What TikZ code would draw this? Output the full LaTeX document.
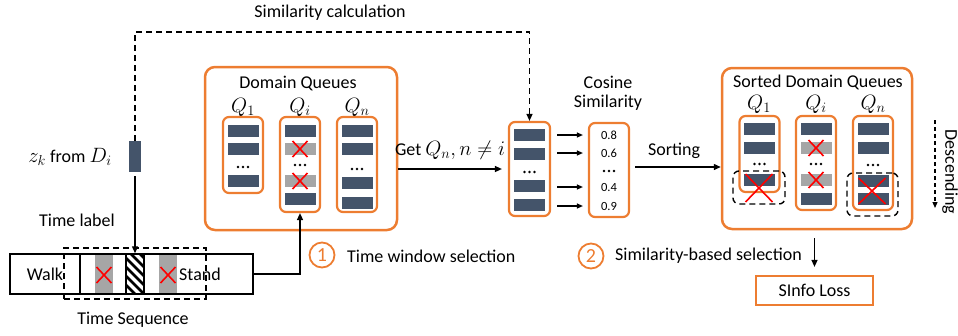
\documentclass[tikz,border=0pt]{standalone}
\usepackage{fontspec}
\setmainfont{Carlito}
\usetikzlibrary{arrows.meta}
\definecolor{org}{HTML}{ED7D31}
\definecolor{barc}{HTML}{44546A}
\definecolor{grayb}{HTML}{A6A6A6}
\newcommand\qb[3]{\fill[#3] (#1-15.5,#2) rectangle (#1+15.5,#2+12);}
\newcommand\qdots[2]{\foreach \dd in {-5,0,5}{\fill (#1+\dd,#2) circle (1.3);}}
\newcommand\crossat[4]{\draw[xline] (#1-#3,#2-#4) -- (#1+#3,#2+#4) (#1-#3,#2+#4) -- (#1+#3,#2-#4);}
\newcommand\mymath[1]{{\fontsize{20}{22}\selectfont$#1$}}
\begin{document}
\begin{tikzpicture}[x=1pt,y=-1pt,
  font=\fontsize{18}{20}\selectfont,
  obox/.style={draw=org, line width=2.5pt, rounded corners=10pt, inner sep=0},
  qbox/.style={draw=org, line width=2.2pt, rounded corners=6pt, inner sep=0, minimum width=40pt},
  xline/.style={red, line width=1.6pt},
  arr/.style={line width=1.4pt, -{Triangle[length=7pt,width=6pt]}},
  dsh/.style={line width=1.4pt, dash pattern=on 6pt off 4pt},
  lbl/.style={inner sep=0, anchor=center},
  small/.style={font=\fontsize{12.5}{14}\selectfont, inner sep=0},
  numc/.style={draw=org, line width=1.8pt, circle, minimum size=25pt, inner sep=0, text=org, font=\fontsize{20}{22}\selectfont}
]
\useasboundingbox (0,0) rectangle (958,335);

% ---------------- time sequence ----------------
\fill[grayb] (95,254) rectangle (113,294);
\fill[grayb] (159,254) rectangle (177,294);
\crossat{104}{275}{7.5}{8}
\crossat{168}{275}{7.5}{8}
\begin{scope}
  \clip (126,254) rectangle (144,294);
  \foreach \k in {-36,-27,...,45} \draw[line width=2.6pt] (122,254+\k) -- ++(26,26);
\end{scope}
\node[draw, line width=1.5pt, minimum width=243pt, minimum height=40pt, inner sep=0] (tseq) at (131.5,274) {};
\draw[line width=1.5pt] (80,254) -- (80,294);
\node[draw, line width=1.5pt, minimum width=18pt, minimum height=40pt, inner sep=0] (hatch) at (135,274) {};
\node[lbl] (walk) at (45,274) {Walk};
\node[lbl] (stand) at (200,274) {Stand};
\node[dsh, draw, minimum width=142pt, minimum height=51pt, inner sep=0] (win) at (135,273.5) {};
\node[lbl] (tseqlbl) at (133,320) {Time Sequence};

% ---------------- z_k ----------------
\node[fill=barc, minimum width=12pt, minimum height=31pt, inner sep=0] (zbar) at (135,156.5) {};
\node[lbl] (zlbl) at (70,157) {\mymath{z_k} from \mymath{D_i}};
\node[lbl] (tlbl) at (77,220) {Time label};
\draw[arr, shorten <=4pt] (zbar.south) -- (hatch.north);

% ---------------- domain queues ----------------
\node[obox, minimum width=192pt, minimum height=163pt] (dq) at (301,148.5) {};
\node[lbl] (dqlbl) at (298,83) {Domain Queues};
\node[lbl] (q1l) at (243,107) {\mymath{Q_1}};
\node[lbl] (qil) at (300,107) {\mymath{Q_i}};
\node[lbl] (qnl) at (357,107) {\mymath{Q_n}};
\node[qbox, minimum height=76pt] (q1) at (243,155) {};
\node[qbox, minimum height=95pt] (qi) at (300,164.5) {};
\node[qbox, minimum height=95pt] (qn) at (357,164.5) {};
\qb{243}{125}{barc}\qb{243}{143}{barc}\qdots{243}{167}\qb{243}{175}{barc}
\qb{300}{125}{barc}\qb{300}{143}{grayb}\qdots{300}{165}\qb{300}{175}{grayb}\qb{300}{193}{barc}
\crossat{300}{149}{7.5}{8}\crossat{300}{181}{7.5}{8}
\qb{357}{125}{barc}\qb{357}{143}{barc}\qdots{357}{169}\qb{357}{177}{barc}\qb{357}{197}{barc}

% time window arrow
\draw[arr] (tseq.east) -| (qi.south);
\node[numc] (c1) at (322,255) {1};
\node[anchor=west, inner sep=0] (twsel) at (347,256) {Time window selection};

% ---------------- middle queue ----------------
\node[qbox, minimum width=41pt, minimum height=94pt] (midq) at (529.5,169) {};
\qb{529.5}{129}{barc}\qb{529.5}{148}{barc}\qdots{529.5}{172}\qb{529.5}{180}{barc}\qb{529.5}{199}{barc}
\draw[arr, shorten >=6pt] (dq.east |- midq.west) -- (midq.west);
\node[lbl] (getlbl) at (450,150) {Get \mymath{Q_n, n \neq i}};

% similarity calculation dashed path
\draw[dsh, -{Triangle[length=7pt,width=6pt]}] (zbar.north) -- ++(0,-109) -| (midq.north);
\node[lbl] (simlbl) at (330,13) {Similarity calculation};

% ---------------- cosine similarity ----------------
\node[qbox, minimum width=40pt, minimum height=94pt] (cos) at (609,170) {};
\node[lbl] (coslbl1) at (608,82) {Cosine};
\node[lbl] (coslbl2) at (608,103) {Similarity};
\node[small] (n1) at (609,135) {0.8};
\node[small] (n2) at (609,153) {0.6};
\qdots{609}{171}
\node[small] (n3) at (609,187) {0.4};
\node[small] (n4) at (609,206) {0.9};
\foreach \n in {n1,n2,n3,n4}{
  \draw[arr, line width=1.2pt, -{Triangle[length=6pt,width=5pt]}, shorten <=6pt, shorten >=5pt]
    (midq.east |- \n.west) -- (cos.west |- \n.west);
}

% ---------------- sorting ----------------
\node[obox, minimum width=190pt, minimum height=161pt] (sdq) at (817,148.5) {};
\draw[arr, shorten <=5pt] (cos.east) ++(0,-3) coordinate (sa) -- (sdq.west |- sa);
\node[lbl] (sortlbl) at (674,151) {Sorting};
\node[lbl] (sdqlbl) at (818,82) {Sorted Domain Queues};
\node[lbl] (sq1l) at (759,104) {\mymath{Q_1}};
\node[lbl] (sqil) at (816,104) {\mymath{Q_i}};
\node[lbl] (sqnl) at (873,104) {\mymath{Q_n}};
\node[qbox, minimum height=76pt] (sq1) at (759.5,154) {};
\node[qbox, minimum height=94pt] (sqi) at (816,163) {};
\node[qbox, minimum height=94pt] (sqn) at (873,163) {};
\qb{759.5}{123}{barc}\qb{759.5}{142}{barc}\qdots{759.5}{164}\qb{759.5}{174}{barc}
\crossat{759}{188}{13.5}{14}
\node[dsh, draw, rounded corners=6pt, minimum width=52pt, minimum height=33pt, inner sep=0] (sel1) at (759,187.5) {};
\qb{816}{123}{barc}\qb{816}{142}{grayb}\qdots{816}{164}\qb{816}{174}{grayb}\qb{816}{193}{barc}
\crossat{816}{148}{7.5}{8}\crossat{816}{180}{7.5}{8}
\qb{873}{123}{barc}\qb{873}{142}{barc}\qdots{873}{165}\qb{873}{175}{barc}\qb{873}{193}{barc}
\crossat{872}{191}{13.5}{13}
\node[dsh, draw, rounded corners=6pt, minimum width=51pt, minimum height=43pt, inner sep=0] (seln) at (872.5,194.5) {};

% descending
\coordinate (dtop) at (935,120);
\coordinate (dbot) at (935,208);
\draw[line width=1.2pt, dash pattern=on 4pt off 3pt, -{Triangle[length=6pt,width=5pt]}] (dtop) -- (dbot);
\node[lbl, rotate=-90] (desc) at (950,172) {Descending};

% ---------------- sinfo loss ----------------
\node[draw=org, line width=2.2pt, minimum width=117pt, minimum height=29pt, inner sep=0] (sinfo) at (814.5,290.5) {SInfo Loss};
\draw[arr, shorten <=8pt, shorten >=8pt] (sdq.south -| sinfo.north) -- (sinfo.north);
\node[numc] (c2) at (591,256) {2};
\node[anchor=west, inner sep=0] (ssel) at (615,256) {Similarity-based selection};
\end{tikzpicture}
\end{document}
